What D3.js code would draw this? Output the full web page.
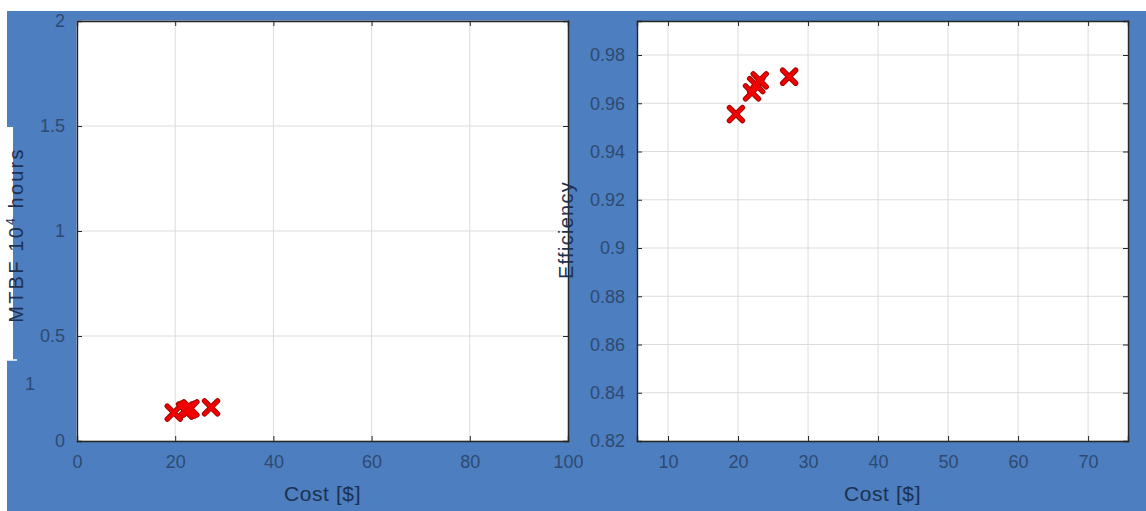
<!DOCTYPE html>
<html>
<head>
<meta charset="utf-8">
<script src="https://cdn.jsdelivr.net/npm/d3@7"></script>
<style>
  html, body { margin: 0; padding: 0; background: #ffffff; }
  svg { display: block; }
  text { font-family: "Liberation Sans", Arial, sans-serif; }
</style>
</head>
<body>
<svg id="chart" width="1146" height="511"></svg>
<script>
// ---- data ----
const cost = [19.7, 22.0, 22.6, 23.1, 27.3];
const mtbf = [0.135, 0.145, 0.15, 0.155, 0.16];
const efficiency = [0.9555, 0.9645, 0.9675, 0.9695, 0.971];
const leftXTicks = [0, 20, 40, 60, 80, 100];
const leftYTicks = [0, 0.5, 1, 1.5, 2];
const rightXTicks = [10, 20, 30, 40, 50, 60, 70];
const rightYTicks = [0.82, 0.84, 0.86, 0.88, 0.9, 0.92, 0.94, 0.96, 0.98];
const xLabel = "Cost [$]";
const leftYLabel = "MTBF 10";
const leftYSup = "4";
const leftYLabelEnd = " hours";
const rightYLabel = "Efficiency";

const svg = d3.select("#chart");
const BLUE = "#4c7ec0";
const TICKCOL = "#2f4a70";
const LABELCOL = "#1d3150";

// background
svg.append("rect").attr("x", 7).attr("y", 11).attr("width", 1139).attr("height", 500).attr("fill", BLUE);
// stray white strip artifact at left
svg.append("rect").attr("x", 7).attr("y", 127).attr("width", 6).attr("height", 233).attr("fill", "#ffffff");
svg.append("line").attr("x1", 7).attr("x2", 17).attr("y1", 360).attr("y2", 360).attr("stroke", "#ffffff").attr("stroke-width", 1.5);
svg.append("text").attr("x", 30).attr("y", 390).attr("text-anchor", "middle").attr("font-size", 18).attr("fill", TICKCOL).text("1");

function panel(cfg) {
  const x = d3.scaleLinear().domain(cfg.xDomain).range([cfg.x0, cfg.x1]);
  const y = d3.scaleLinear().domain(cfg.yDomain).range([cfg.y1, cfg.y0]);
  const g = svg.append("g");
  g.append("rect").attr("x", cfg.x0).attr("y", cfg.y0)
    .attr("width", cfg.x1 - cfg.x0).attr("height", cfg.y1 - cfg.y0).attr("fill", "#ffffff");
  // grid
  g.append("g").selectAll("line").data(cfg.xTicks).join("line")
    .attr("x1", d => x(d)).attr("x2", d => x(d)).attr("y1", cfg.y0).attr("y2", cfg.y1)
    .attr("stroke", "#dcdcdc").attr("stroke-width", 1);
  g.append("g").selectAll("line").data(cfg.yTicks).join("line")
    .attr("y1", d => y(d)).attr("y2", d => y(d)).attr("x1", cfg.x0).attr("x2", cfg.x1)
    .attr("stroke", "#dcdcdc").attr("stroke-width", 1);
  // axes with inward ticks
  const bottom = g.append("g").attr("transform", `translate(0,${cfg.y1})`)
    .call(d3.axisBottom(x).tickValues(cfg.xTicks).tickSize(-5).tickPadding(14).tickFormat(d3.format("")));
  const top = g.append("g").attr("transform", `translate(0,${cfg.y0})`)
    .call(d3.axisTop(x).tickValues(cfg.xTicks).tickSize(-5).tickFormat(""));
  const left = g.append("g").attr("transform", `translate(${cfg.x0},0)`)
    .call(d3.axisLeft(y).tickValues(cfg.yTicks).tickSize(-5).tickPadding(12).tickFormat(d3.format("")));
  const right = g.append("g").attr("transform", `translate(${cfg.x1},0)`)
    .call(d3.axisRight(y).tickValues(cfg.yTicks).tickSize(-5).tickFormat(""));
  [bottom, top, left, right].forEach(a => {
    a.select(".domain").attr("stroke", "#262626").attr("stroke-width", 1.4);
    a.selectAll(".tick line").attr("stroke", "#262626").attr("stroke-width", 1);
    a.selectAll("text").attr("font-size", 18).attr("fill", TICKCOL)
      .attr("font-family", "'Liberation Sans', Arial, sans-serif");
  });
  // x label
  g.append("text").attr("x", (cfg.x0 + cfg.x1) / 2).attr("y", 501)
    .attr("text-anchor", "middle").attr("font-size", 21).attr("letter-spacing", 0.6)
    .attr("fill", LABELCOL).text(xLabel);
  // markers
  const s = 6.5;
  const pts = cost.map((c, i) => ({ c, v: cfg.values[i] }));
  const mk = g.append("g");
  [["#9a0000", 5.4], ["#f00000", 3.6]].forEach(([col, w]) => {
    mk.append("g").selectAll("path").data(pts).join("path")
      .attr("d", d => {
        const px = x(d.c), py = y(d.v);
        return `M${px - s},${py - s}L${px + s},${py + s}M${px - s},${py + s}L${px + s},${py - s}`;
      })
      .attr("stroke", col).attr("stroke-width", w).attr("fill", "none").attr("stroke-linecap", "round");
  });
  return { x, y, g };
}

const L = panel({
  x0: 77, x1: 568, y0: 21, y1: 441,
  xDomain: [0, 100], yDomain: [0, 2],
  xTicks: leftXTicks, yTicks: leftYTicks, values: mtbf
});
const R = panel({
  x0: 637, x1: 1128, y0: 21, y1: 441,
  xDomain: [5.57, 75.7], yDomain: [0.82, 0.9941],
  xTicks: rightXTicks, yTicks: rightYTicks, values: efficiency
});

// y labels
const ly = svg.append("text").attr("transform", "translate(23,235) rotate(-90)")
  .attr("text-anchor", "middle").attr("font-size", 20).attr("letter-spacing", 2.2).attr("fill", LABELCOL);
ly.append("tspan").text(leftYLabel);
ly.append("tspan").attr("font-size", 12).attr("dy", -8).text(leftYSup);
ly.append("tspan").attr("dy", 8).text(leftYLabelEnd);

svg.append("text").attr("transform", "translate(573,230) rotate(-90)")
  .attr("text-anchor", "middle").attr("font-size", 20).attr("letter-spacing", 1.3)
  .attr("fill", LABELCOL).text(rightYLabel);
</script>
</body>
</html>
